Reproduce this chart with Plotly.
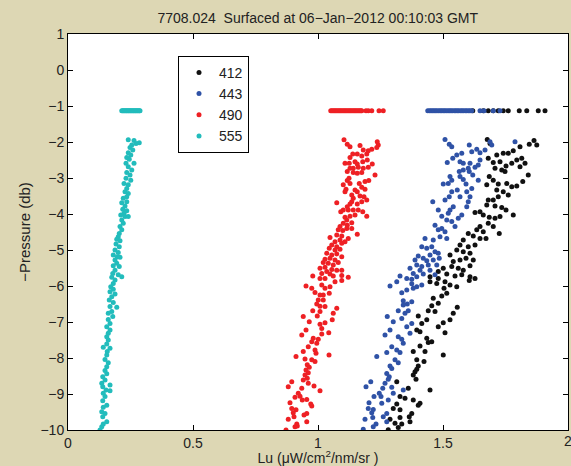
import plotly.graph_objects as go

# ---------------- data ----------------
SERIES_NAMES = ["412", "443", "490", "555"]
SURFACE_P = -1.13  # pressure of the near-surface readings

# 412 nm (black)
x412 = [1.677, 1.688, 1.864, 1.875, 1.845, 1.808, 1.781, 1.761, 1.741, 1.715, 1.681, 1.701, 1.728, 1.752,
        1.775, 1.795, 1.815, 1.828, 1.808, 1.748, 1.735, 1.708, 1.685, 1.701, 1.675, 1.721, 1.755, 1.775,
        1.795, 1.819, 1.841, 1.715, 1.741, 1.761, 1.721, 1.701, 1.681, 1.675, 1.708, 1.735, 1.752, 1.648,
        1.628, 1.661, 1.685, 1.708, 1.728, 1.781, 1.681, 1.648, 1.635, 1.661, 1.701, 1.725, 1.601, 1.621,
        1.648, 1.672, 1.581, 1.568, 1.601, 1.628, 1.555, 1.581, 1.608, 1.621, 1.528, 1.541, 1.568, 1.592,
        1.501, 1.535, 1.561, 1.581, 1.608, 1.481, 1.515, 1.548, 1.575, 1.608, 1.628, 1.448, 1.481,
        1.448, 1.475, 1.508, 1.528, 1.555, 1.605, 1.504, 1.515, 1.495, 1.461, 1.481, 1.455, 1.441, 1.468,
        1.557, 1.541, 1.528, 1.501, 1.481, 1.508, 1.435, 1.415, 1.401, 1.395, 1.408, 1.435, 1.455, 1.441,
        1.408, 1.381, 1.428, 1.501, 1.395, 1.424, 1.401, 1.395, 1.388, 1.381, 1.392, 1.448, 1.361, 1.315,
        1.328, 1.348, 1.381, 1.315, 1.301, 1.401, 1.408, 1.328, 1.375, 1.365, 1.288, 1.328, 1.308, 1.281,
        1.321, 1.368, 1.335]
y412 = [-1.93, -2.04, -1.96, -2.08, -2.06, -2.13, -2.24, -2.31, -2.31, -2.36, -2.45, -2.57, -2.55, -2.67,
        -2.59, -2.50, -2.45, -2.59, -2.69, -2.82, -2.78, -2.73, -2.96, -3.06, -3.19, -3.17, -3.15, -3.24,
        -3.22, -3.10, -2.92, -3.33, -3.38, -3.47, -3.52, -3.61, -3.61, -3.75, -3.78, -3.82, -3.89, -3.94,
        -3.96, -4.03, -4.09, -4.12, -4.07, -4.03, -4.26, -4.35, -4.44, -4.49, -4.35, -4.54, -4.54, -4.61,
        -4.68, -4.68, -4.72, -4.86, -4.91, -4.86, -5.00, -5.05, -5.09, -5.28, -5.14, -5.32, -5.28, -5.23,
        -5.51, -5.46, -5.51, -5.56, -5.44, -5.60, -5.67, -5.72, -5.69, -5.74, -5.79, -5.74, -5.79,
        -5.88, -5.93, -5.88, -5.97, -6.02, -5.85, -6.06, -6.20, -6.28, -6.34, -6.48, -6.55, -6.69, -6.71,
        -6.59, -6.76, -6.94, -7.02, -7.13, -7.30, -6.94, -7.04, -6.83, -7.22, -7.27, -7.45, -7.55, -7.57,
        -7.67, -7.82, -7.82, -7.92, -8.05, -8.10, -8.22, -8.31, -8.38, -8.47, -8.59, -8.89, -8.84, -8.66,
        -9.07, -9.12, -9.17, -9.28, -9.40, -9.31, -9.26, -9.44, -9.54, -9.63, -9.70, -9.65, -9.81, -9.99,
        -9.93, -9.77, -9.83]
s412 = [1.619, 1.661, 1.681, 1.701, 1.721, 1.741, 1.761, 1.805, 1.835, 1.881, 1.908]

# 443 nm (blue)
x443 = [1.508, 1.525, 1.535, 1.605, 1.635, 1.615, 1.648, 1.668, 1.688, 1.695, 1.788, 1.575, 1.555, 1.539,
        1.517, 1.568, 1.581, 1.608, 1.648, 1.641, 1.628, 1.601, 1.581, 1.565, 1.605, 1.528, 1.535, 1.521,
        1.501, 1.568, 1.581, 1.619, 1.641, 1.592, 1.557, 1.535, 1.595, 1.615, 1.459, 1.525, 1.508, 1.568,
        1.608, 1.601, 1.595, 1.541, 1.528, 1.481, 1.495, 1.521, 1.575, 1.561, 1.515, 1.535, 1.548, 1.468,
        1.495, 1.481, 1.508, 1.515, 1.488, 1.461, 1.428, 1.415, 1.435, 1.455, 1.468, 1.481, 1.448, 1.401,
        1.421, 1.435, 1.461, 1.485, 1.388, 1.395, 1.415, 1.441, 1.475, 1.368, 1.408, 1.448, 1.381, 1.421,
        1.468, 1.395, 1.328, 1.355, 1.375,
        1.288, 1.315, 1.335, 1.355, 1.375, 1.381, 1.395, 1.415, 1.341, 1.357, 1.375, 1.341, 1.321, 1.348,
        1.361, 1.277, 1.301, 1.335, 1.375, 1.355, 1.268, 1.288, 1.321, 1.335, 1.368, 1.341, 1.295, 1.315,
        1.275, 1.328, 1.235, 1.308, 1.321, 1.288, 1.295, 1.275, 1.285, 1.281, 1.268, 1.295, 1.192, 1.211,
        1.259, 1.245, 1.252, 1.224, 1.301, 1.341, 1.281, 1.204, 1.255, 1.221, 1.201, 1.215, 1.275, 1.261,
        1.188, 1.219, 1.232, 1.221, 1.181, 1.275]
y443 = [-1.93, -2.06, -2.13, -2.08, -2.20, -2.27, -2.30, -2.22, -1.99, -2.08, -1.99, -2.31, -2.36, -2.45,
        -2.57, -2.55, -2.59, -2.59, -2.50, -2.64, -2.70, -2.73, -2.78, -2.82, -2.82, -2.96, -3.06, -3.15,
        -3.17, -2.96, -3.04, -2.92, -3.06, -3.17, -3.33, -3.38, -3.38, -3.29, -3.66, -3.52, -3.61, -3.52,
        -3.52, -3.66, -3.80, -3.80, -3.89, -3.89, -4.06, -3.98, -4.03, -4.12, -4.17, -4.21, -4.35, -4.31,
        -4.40, -4.44, -4.49, -4.68, -4.63, -4.72, -4.68, -4.91, -4.95, -4.91, -5.05, -5.09, -5.14, -5.17,
        -5.23, -5.30, -5.28, -5.23, -5.28, -5.42, -5.46, -5.42, -5.42, -5.51, -5.56, -5.56, -5.65, -5.67,
        -5.69, -5.74, -5.72, -5.79, -5.81,
        -6.00, -5.88, -6.19, -6.11, -5.94, -6.06, -6.02, -5.97, -6.41, -6.50, -6.44, -6.53, -6.69, -6.76,
        -6.69, -6.85, -6.99, -6.90, -7.04, -7.13, -7.36, -7.22, -7.41, -7.48, -7.31, -7.59, -7.69, -7.78,
        -7.85, -7.85, -7.96, -8.05, -8.13, -8.22, -8.29, -8.43, -8.52, -8.59, -8.70, -8.81, -8.80, -8.66,
        -8.84, -8.98, -9.07, -9.07, -8.98, -8.89, -9.17, -9.24, -9.26, -9.43, -9.40, -9.52, -9.54, -9.63,
        -9.70, -9.65, -9.83, -9.91, -9.98, -9.77]
s443 = [1.439, 1.446, 1.452, 1.458, 1.464, 1.470, 1.476, 1.483, 1.489, 1.495, 1.501, 1.507, 1.513, 1.520,
        1.526, 1.532, 1.538, 1.545, 1.551, 1.557, 1.563, 1.570, 1.576, 1.582, 1.589, 1.595, 1.602, 1.608,
        1.615, 1.648, 1.664, 1.701, 1.728]

# 490 nm (red)
x490 = [1.104, 1.117, 1.128, 1.168, 1.237, 1.241, 1.235, 1.215, 1.201, 1.181, 1.195, 1.175, 1.157, 1.139,
        1.128, 1.108, 1.125, 1.148, 1.157, 1.179, 1.197, 1.217, 1.201, 1.181, 1.161, 1.141, 1.128, 1.117,
        1.141, 1.157, 1.175, 1.228, 1.124, 1.117, 1.128, 1.101, 1.112, 1.108, 1.148, 1.165, 1.188, 1.203,
        1.175, 1.188, 1.157, 1.135, 1.141, 1.168, 1.184, 1.195, 1.175, 1.157, 1.135, 1.128, 1.075, 1.117,
        1.101, 1.091, 1.121, 1.141, 1.161, 1.179, 1.195, 1.148, 1.128, 1.108, 1.115, 1.135, 1.117, 1.101,
        1.088, 1.081, 1.099, 1.115, 1.135, 1.157, 1.048, 1.075, 1.095, 1.121, 1.088, 1.068, 1.055, 1.075,
        1.095, 1.108, 1.045, 1.068, 1.088, 1.035, 1.055, 1.075, 1.095, 1.028, 1.048, 1.068, 1.021, 1.041,
        1.061, 1.081, 1.008, 1.028, 1.055, 1.075, 1.095, 1.035, 1.015, 1.048, 1.061, 0.979, 1.008, 1.028,
        1.095, 1.121,
        0.952, 0.975, 1.015, 1.028, 1.048, 1.068, 1.095, 0.988, 1.021, 1.008, 1.045, 1.001, 1.021, 0.995,
        1.008, 1.028, 1.075, 0.979, 1.008, 1.061, 0.997, 0.941, 0.965, 1.028, 1.057, 1.008, 1.015, 0.952,
        1.043, 1.015, 0.935, 0.981, 1.001, 0.975, 0.995, 0.961, 0.941, 0.988, 0.992, 0.912, 0.948, 0.975,
        0.988, 1.044, 0.957, 0.965, 0.952, 0.961, 0.948, 0.957, 0.941, 0.895, 0.881, 0.935, 0.961, 0.984,
        1.008, 0.921, 0.928, 0.908, 0.937, 0.955, 0.888, 0.971, 0.975, 0.895, 0.912, 0.901, 0.944, 0.955,
        0.881, 0.904, 0.955, 0.915, 0.908, 0.872, 0.917]
y490 = [-1.94, -2.06, -2.13, -2.10, -1.99, -2.08, -2.15, -2.20, -2.24, -2.22, -2.33, -2.39, -2.33, -2.33,
        -2.43, -2.59, -2.59, -2.55, -2.61, -2.55, -2.50, -2.61, -2.70, -2.73, -2.70, -2.73, -2.73, -2.82,
        -2.85, -2.87, -2.85, -2.92, -3.01, -3.07, -3.15, -3.19, -3.31, -3.38, -3.33, -3.15, -3.10, -3.07,
        -3.26, -3.31, -3.38, -3.47, -3.56, -3.50, -3.52, -3.61, -3.66, -3.72, -3.66, -3.72, -3.69, -3.80,
        -3.89, -3.94, -3.89, -3.89, -3.89, -3.94, -4.06, -4.03, -4.06, -4.09, -4.17, -4.24, -4.31, -4.26,
        -4.35, -4.44, -4.46, -4.40, -4.40, -4.56, -4.65, -4.58, -4.61, -4.68, -4.72, -4.77, -4.86, -4.91,
        -4.81, -4.77, -4.95, -5.00, -4.98, -5.09, -5.14, -5.11, -5.19, -5.26, -5.23, -5.28, -5.35, -5.37,
        -5.42, -5.35, -5.51, -5.48, -5.54, -5.56, -5.56, -5.60, -5.65, -5.67, -5.72, -5.72, -5.79, -5.79,
        -5.71, -5.76,
        -6.00, -6.06, -5.97, -6.06, -6.02, -5.88, -5.85, -6.18, -6.25, -6.25, -6.20, -6.39, -6.39, -6.50,
        -6.56, -6.57, -6.62, -6.69, -6.71, -6.76, -6.83, -6.85, -6.99, -7.02, -6.94, -7.06, -7.18, -7.22,
        -7.30, -7.33, -7.36, -7.45, -7.48, -7.55, -7.59, -7.69, -7.82, -7.78, -7.87, -7.96, -8.03, -8.05,
        -8.10, -7.92, -8.19, -8.26, -8.33, -8.41, -8.47, -8.56, -8.61, -8.66, -8.80, -8.84, -8.70, -8.78,
        -8.91, -8.98, -9.06, -9.09, -9.17, -9.15, -9.24, -9.28, -9.33, -9.40, -9.44, -9.52, -9.58, -9.54,
        -9.70, -9.63, -9.77, -9.83, -9.91, -10.00, -9.89]
s490 = [1.051, 1.056, 1.061, 1.066, 1.071, 1.076, 1.081, 1.086, 1.091, 1.096, 1.101, 1.106, 1.111, 1.116,
        1.121, 1.126, 1.131, 1.136, 1.141, 1.146, 1.151, 1.156, 1.161, 1.166, 1.171, 1.175, 1.192, 1.201,
        1.215, 1.244, 1.261]

# 555 nm (cyan)
x555 = [0.241, 0.264, 0.285, 0.272, 0.255, 0.248, 0.259, 0.241, 0.251, 0.235, 0.245, 0.264, 0.232, 0.241,
        0.255, 0.235, 0.248, 0.232, 0.251, 0.224, 0.241, 0.235, 0.228, 0.241, 0.235, 0.221, 0.235, 0.215,
        0.228, 0.219, 0.235, 0.224, 0.211, 0.228, 0.241, 0.215, 0.221, 0.208, 0.215, 0.205, 0.201, 0.195,
        0.208, 0.192, 0.205, 0.188, 0.201, 0.181, 0.197, 0.208, 0.188, 0.195, 0.181, 0.205, 0.188, 0.179,
        0.201, 0.215, 0.175, 0.188, 0.181, 0.171, 0.181, 0.168, 0.188, 0.175, 0.165, 0.181, 0.195, 0.168,
        0.175, 0.161, 0.179, 0.161, 0.168, 0.155, 0.168, 0.161, 0.155, 0.161, 0.155, 0.141, 0.168, 0.157,
        0.155, 0.148, 0.161, 0.155, 0.148, 0.155, 0.139, 0.148, 0.135, 0.168, 0.139, 0.152, 0.168, 0.141,
        0.148, 0.139, 0.155, 0.141, 0.135, 0.148, 0.139, 0.155, 0.141, 0.135, 0.128]
y555 = [-1.94, -1.96, -2.02, -2.04, -2.08, -2.15, -2.22, -2.30, -2.36, -2.43, -2.48, -2.59, -2.59, -2.69,
        -2.78, -2.85, -2.92, -3.01, -3.06, -3.15, -3.19, -3.29, -3.38, -3.43, -3.52, -3.56, -3.66, -3.69,
        -3.78, -3.87, -3.91, -3.98, -4.03, -4.07, -4.07, -4.17, -4.26, -4.35, -4.44, -4.54, -4.63, -4.70,
        -4.74, -4.83, -4.91, -5.00, -5.07, -5.14, -5.19, -5.20, -5.28, -5.37, -5.44, -5.46, -5.56, -5.65,
        -5.69, -5.74, -5.76, -5.83, -5.93, -6.02, -6.09, -6.16, -6.22, -6.30, -6.39, -6.46, -6.59, -6.57,
        -6.71, -6.76, -6.85, -6.93, -7.04, -7.13, -7.22, -7.31, -7.41, -7.50, -7.61, -7.70, -7.73, -7.82,
        -7.92, -8.04, -8.13, -8.24, -8.35, -8.44, -8.52, -8.61, -8.70, -8.75, -8.80, -8.89, -8.91, -8.98,
        -9.07, -9.19, -9.31, -9.37, -9.49, -9.54, -9.63, -9.77, -9.83, -9.91, -10.00]
s555 = [0.215, 0.219, 0.222, 0.226, 0.229, 0.233, 0.236, 0.240, 0.243, 0.247, 0.250, 0.254, 0.257, 0.261,
        0.264, 0.268, 0.271, 0.275, 0.278, 0.282, 0.285, 0.288]

XTICKS = [0, 0.5, 1, 1.5, 2]
XTICKTEXT = ["0", "0.5", "1", "1.5", "2"]

COLORS = ["#111111", "#2f52a6", "#ee2024", "#22bcbc"]

TITLE = "7708.024  Surfaced at 06\u2212Jan\u22122012 00:10:03 GMT"
XTITLE = "Lu (\u03bcW/cm<sup>2</sup>/nm/sr )"
YTITLE = "\u2212Pressure (db)"

# ---------------- figure ----------------
FONT = "Liberation Sans, Arial, Helvetica, sans-serif"
fig = go.Figure()
profiles = [(x412, y412, s412), (x443, y443, s443), (x490, y490, s490), (x555, y555, s555)]
for name, color, (xs, ys, ss) in zip(SERIES_NAMES, COLORS, profiles):
    fig.add_trace(go.Scatter(
        x=list(ss) + list(xs),
        y=[SURFACE_P] * len(ss) + list(ys),
        mode="markers", name=name,
        marker=dict(color=color, size=5, line=dict(width=0)),
        cliponaxis=True,
    ))

axis_common = dict(
    showline=True, linecolor="black", linewidth=1, mirror="ticks",
    ticks="inside", ticklen=5, tickcolor="black", showgrid=False, zeroline=False,
    tickfont=dict(family=FONT, size=14, color="#222222"),
)
fig.update_layout(
    width=571, height=466,
    margin=dict(l=68, r=3, t=34, b=36, autoexpand=False),
    paper_bgcolor="#ddd7b4", plot_bgcolor="white",
    font=dict(family=FONT, size=14, color="#222222"),
    title=dict(text=TITLE, x=0.5565, xanchor="center", y=0.962, yanchor="middle",
               font=dict(family=FONT, size=14, color="#222222")),
    xaxis=dict(range=[0, 2], tickvals=XTICKS[:-1], ticktext=XTICKTEXT[:-1],
               title=dict(text=XTITLE, standoff=0, font=dict(family=FONT, size=14)), **axis_common),
    yaxis=dict(range=[-10, 1], dtick=1, tick0=0,
               title=dict(text=YTITLE, standoff=6, font=dict(family=FONT, size=15)), **axis_common),
    showlegend=True,
    legend=dict(x=0.22, y=0.945, xanchor="left", yanchor="top", bgcolor="white",
                bordercolor="black", borderwidth=1, font=dict(family=FONT, size=14, color="#222222"),
                itemsizing="trace", tracegroupgap=0, itemwidth=30),
)
# the last x tick label sits at the right edge of the page
fig.add_annotation(x=XTICKS[-1], y=0, xref="x", yref="paper", text=XTICKTEXT[-1],
                   showarrow=False, xanchor="center", yanchor="top", yshift=-1,
                   font=dict(family=FONT, size=14, color="#222222"))
fig.add_trace(go.Scatter(x=[XTICKS[-1]], y=[-10], mode="markers", showlegend=False,
                         marker=dict(size=0.1, opacity=0), hoverinfo="skip"))
fig.write_html("out.html")
